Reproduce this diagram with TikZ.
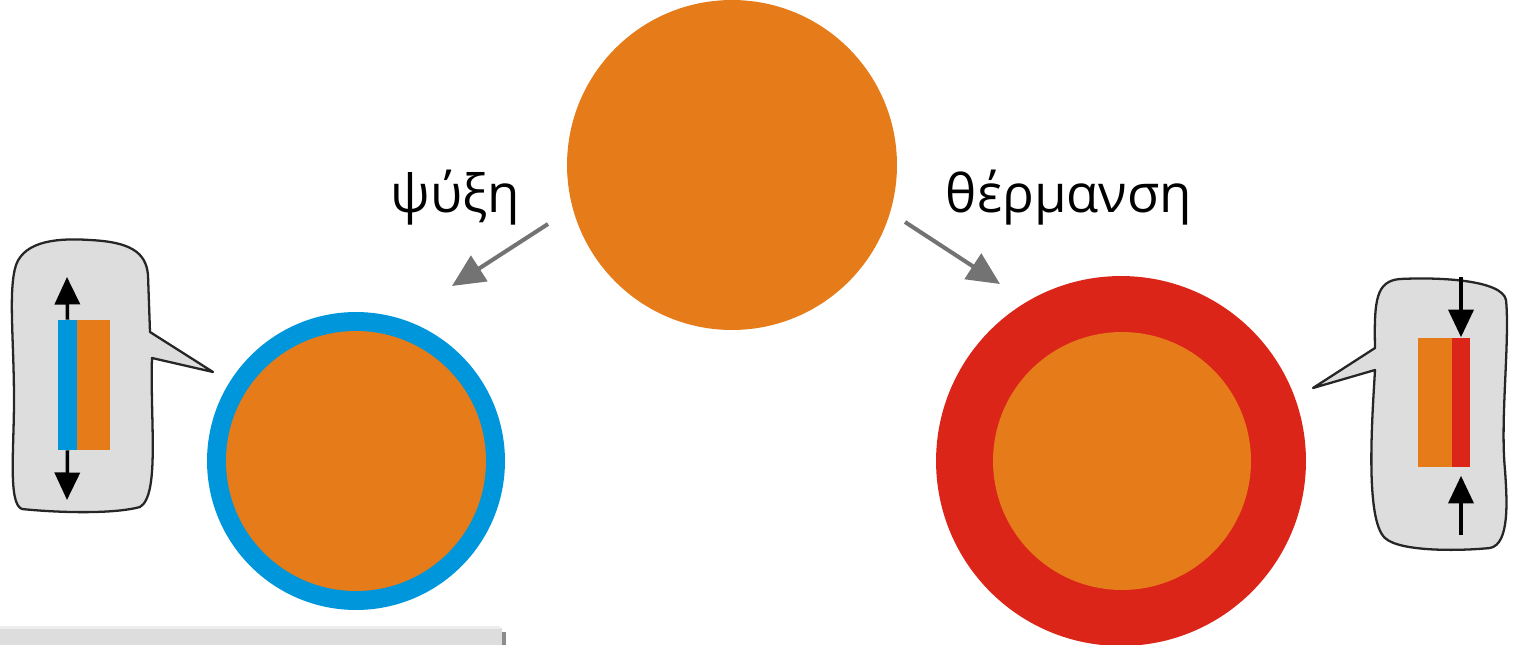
\documentclass[tikz,border=0pt]{standalone}
\usepackage{fontspec}
\setmainfont{Open Sans}
\usetikzlibrary{arrows.meta}
\definecolor{droporange}{RGB}{229,123,25}
\definecolor{coolblue}{RGB}{0,150,219}
\definecolor{heatred}{RGB}{220,37,25}
\definecolor{bubblegray}{RGB}{221,221,221}
\definecolor{arrowgray}{RGB}{115,115,115}
\tikzset{
  drop/.style={
    circle,
    inner sep=0pt,
    draw=none,
    fill=droporange,
  },
  bubble/.style={
    fill=bubblegray,
    draw=black!85,
    line width=1.3pt,
    line join=round,
  },
  strip/.style={
    rectangle,
    inner sep=0pt,
    draw=none,
    minimum height=2.6cm,
  },
  force arrow/.style={-{Triangle[length=0.55cm,width=0.5cm]}, line width=2pt},
  change arrow/.style={-{Triangle[length=0.65cm,width=0.6cm]}, line width=2.3pt, draw=arrowgray},
  label text/.style={font=\fontsize{30}{36}\selectfont, inner sep=0pt, anchor=base},
}

\begin{document}
\begin{tikzpicture}[x=0.02cm,y=-0.02cm]
  \useasboundingbox (0,0) rectangle (1513,645);

  % initial drop
  \node[drop,minimum size=6.6cm] (start) at (732,165) {};

  % cooled drop
  \node[drop,fill=coolblue,minimum size=5.96cm] (cooled) at (356,461) {};
  \node[drop,minimum size=5.2cm] (cooled core) at (356,461) {};

  % heated drop
  \node[drop,fill=heatred,minimum size=7.4cm] (heated) at (1121,461) {};
  \node[drop,minimum size=5.16cm] (heated core) at (1122,461) {};

  % labels and arrows
  \node[label text] (cool label) at (455,213) {ψύξη};
  \node[label text] (heat label) at (1069,213) {θέρμανση};
  \coordinate (cool from) at (548,224);
  \coordinate (cool to) at (452,286);
  \coordinate (heat from) at (905,222);
  \coordinate (heat to) at (1000,284);
  \draw[change arrow] (cool from) -- (cool to);
  \draw[change arrow] (heat from) -- (heat to);

  % left callout
  \draw[bubble] (150,332) -- (213,372) -- (152,358)
    .. controls (150,420) and (160,495) .. (140,507)
    .. controls (110,515) and (50,512) .. (22,509)
    .. controls (8,504) and (14,450) .. (14,400)
    .. controls (14,340) and (8,290) .. (16,265)
    .. controls (25,240) and (60,238) .. (90,240)
    .. controls (130,242) and (146,252) .. (148,275)
    -- cycle;
  \node[strip,fill=coolblue,minimum width=0.38cm] (cool skin) at (67.5,385) {};
  \node[strip,fill=droporange,minimum width=0.66cm] (cool body) at (93.5,385) {};
  \coordinate (cool top) at (67,277);
  \coordinate (cool bottom) at (67,500);
  \draw[force arrow] (cool skin.north) -- (cool top);
  \draw[force arrow] (cool skin.south) -- (cool bottom);

  % right callout
  \draw[bubble] (1375,348) -- (1313,388) -- (1375,370)
    .. controls (1372,420) and (1365,520) .. (1385,538)
    .. controls (1400,552) and (1460,551) .. (1490,548)
    .. controls (1510,544) and (1507,500) .. (1505,470)
    .. controls (1500,420) and (1510,340) .. (1506,300)
    .. controls (1502,280) and (1440,277) .. (1400,279)
    .. controls (1376,281) and (1374,300) .. cycle;
  \node[strip,fill=droporange,minimum width=0.68cm] (heat body) at (1435,402.5) {};
  \node[strip,fill=heatred,minimum width=0.36cm] (heat skin) at (1461,402.5) {};
  \coordinate (heat top) at (1461,277);
  \coordinate (heat bottom) at (1461,535);
  \draw[force arrow] (heat top) -- (heat skin.north);
  \draw[force arrow] (heat bottom) -- ([yshift=-0.16cm]heat skin.south);

  % strip at the bottom edge
  \fill[black!45] (502,632) rectangle (506,645);
  \fill[bubblegray] (0,628) rectangle (502,645);
  \fill[black!7] (0,626) rectangle (500,629);
\end{tikzpicture}
\end{document}
